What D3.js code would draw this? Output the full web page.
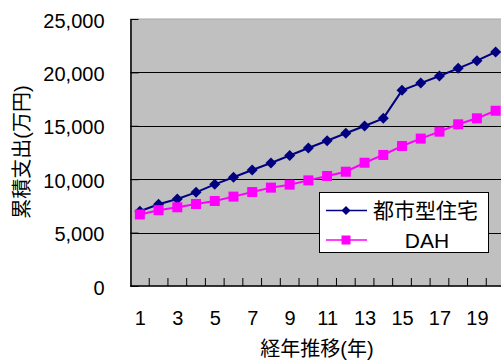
<!DOCTYPE html>
<html>
<head>
<meta charset="utf-8">
<script src="https://cdn.jsdelivr.net/npm/d3@7/dist/d3.min.js"></script>
<style>
  html, body { margin: 0; padding: 0; background: #fff; }
  svg text { font-family: "Liberation Sans", "Noto Sans CJK JP", sans-serif; fill: #000; }
</style>
</head>
<body>
<svg id="chart" width="501" height="361"></svg>
<script>
// Cumulative expenditure (10,000 yen) by year
const years = d3.range(1, 21);
const urbanHousing = [7000, 7650, 8150, 8770, 9520, 10180, 10860, 11520, 12220, 12920,
                      13600, 14300, 14980, 15700, 18320, 19000, 19660, 20380, 21100, 21910];
const dah = [6700, 7100, 7370, 7680, 7960, 8370, 8800, 9210, 9490, 9890,
             10300, 10700, 11540, 12270, 13110, 13800, 14450, 15140, 15700, 16410];
const yTicks = [0, 5000, 10000, 15000, 20000, 25000];
const xLabels = [1, 3, 5, 7, 9, 11, 13, 15, 17, 19];
const seriesNames = ["都市型住宅", "DAH"];

const svg = d3.select("#chart");
const plotL = 130.5, plotR = 505, plotT = 19, plotB = 286;

const x = d3.scaleBand().domain(years).range([plotL, plotR]).padding(0);
const cx = d => x(d) + x.bandwidth() / 2;
const y = d3.scaleLinear().domain([0, 25000]).range([plotB, plotT]);

// plot area
svg.append("rect")
  .attr("x", plotL).attr("y", plotT)
  .attr("width", plotR - plotL).attr("height", plotB - plotT)
  .attr("fill", "#c0c0c0").attr("stroke", "#a6a6a6").attr("stroke-width", 1);

// horizontal gridlines
svg.append("g").selectAll("line")
  .data(yTicks.filter(v => v > 0 && v < 25000))
  .join("line")
  .attr("x1", plotL).attr("x2", plotR)
  .attr("y1", d => Math.round(y(d)) + 0.5).attr("y2", d => Math.round(y(d)) + 0.5)
  .attr("stroke", "#000").attr("stroke-width", 1);

// y axis
const yAxis = d3.axisLeft(y).tickValues(yTicks)
  .tickSizeInner(-8).tickSizeOuter(0).tickPadding(26)
  .tickFormat(d3.format(","));
const gy = svg.append("g").attr("transform", `translate(${plotL},0)`).call(yAxis);
gy.select(".domain").attr("stroke", "#000").attr("stroke-width", 1.5);
gy.selectAll(".tick line").attr("stroke", "#000");
gy.selectAll(".tick text").attr("font-size", 20).attr("dy", "0.4em")
  .style("font-family", "'Liberation Sans', sans-serif");

// x axis line and category boundary ticks
svg.append("line")
  .attr("x1", plotL).attr("x2", plotR).attr("y1", plotB).attr("y2", plotB)
  .attr("stroke", "#000").attr("stroke-width", 1.5);
svg.append("g").selectAll("line")
  .data(years.slice(1).concat([null]))
  .join("line")
  .attr("x1", d => d === null ? plotR : x(d)).attr("x2", d => d === null ? plotR : x(d))
  .attr("y1", plotB - 8).attr("y2", plotB)
  .attr("stroke", "#000").attr("stroke-width", 1);

// x labels at category centres
const xp = d3.scalePoint().domain(years).range([cx(1), cx(20)]);
const gx = svg.append("g").attr("transform", `translate(0,${plotB})`)
  .call(d3.axisBottom(xp).tickValues(xLabels).tickSize(0).tickPadding(25));
gx.select(".domain").remove();
gx.selectAll(".tick text").attr("font-size", 20)
  .style("font-family", "'Liberation Sans', sans-serif");

// series
const colors = ["#000080", "#ff00ff"];
const data = [urbanHousing, dah];
const line = d3.line().x((d, i) => cx(years[i])).y(d => y(d));

data.forEach((vals, k) => {
  svg.append("path").datum(vals)
    .attr("d", line).attr("fill", "none")
    .attr("stroke", colors[k]).attr("stroke-width", 2);
});

// diamond markers
svg.append("g").selectAll("path")
  .data(urbanHousing)
  .join("path")
  .attr("d", (d, i) => {
    const px = cx(years[i]), py = y(d), r = 5.5;
    return `M${px},${py - r}L${px + r},${py}L${px},${py + r}L${px - r},${py}Z`;
  })
  .attr("fill", colors[0]);

// square markers
svg.append("g").selectAll("rect")
  .data(dah)
  .join("rect")
  .attr("x", (d, i) => cx(years[i]) - 5).attr("y", d => y(d) - 5)
  .attr("width", 10).attr("height", 10)
  .attr("fill", colors[1]);

// legend
const lg = svg.append("g");
lg.append("rect")
  .attr("x", 319.5).attr("y", 192.5).attr("width", 169).attr("height", 60)
  .attr("fill", "#fff").attr("stroke", "#000").attr("stroke-width", 1);
const rows = [210.5, 240];
seriesNames.forEach((name, k) => {
  const ry = rows[k];
  lg.append("line").attr("x1", 326).attr("x2", 367).attr("y1", ry).attr("y2", ry)
    .attr("stroke", colors[k]).attr("stroke-width", 1.5);
  if (k === 0) {
    const r = 4.5, px = 346;
    lg.append("path").attr("d", `M${px},${ry - r}L${px + r},${ry}L${px},${ry + r}L${px - r},${ry}Z`)
      .attr("fill", colors[k]);
  } else {
    lg.append("rect").attr("x", 346 - 4.5).attr("y", ry - 4.5).attr("width", 9).attr("height", 9)
      .attr("fill", colors[k]);
  }
  lg.append("text")
    .attr("x", k === 0 ? 373 : 427).attr("y", ry + 7.5)
    .attr("text-anchor", k === 0 ? "start" : "middle")
    .attr("font-size", 21)
    .text(name);
});

// axis titles
svg.append("text")
  .attr("transform", "translate(29,152) rotate(-90)")
  .attr("text-anchor", "middle").attr("font-size", 20)
  .text("累積支出(万円)");
svg.append("text")
  .attr("x", 317).attr("y", 356)
  .attr("text-anchor", "middle").attr("font-size", 20)
  .text("経年推移(年)");
</script>
</body>
</html>
